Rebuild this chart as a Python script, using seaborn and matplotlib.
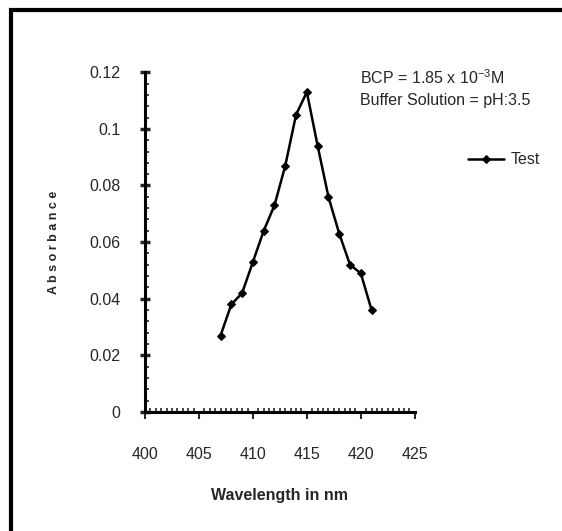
import matplotlib
matplotlib.use("Agg")
import matplotlib.pyplot as plt
import seaborn as sns
import pandas as pd
from matplotlib.ticker import MultipleLocator
from matplotlib.patches import Rectangle

# data
wavelength = [407, 408, 409, 410, 411, 412, 413, 414, 415, 416, 417, 418, 419, 420, 421]
absorbance = [0.027, 0.038, 0.042, 0.053, 0.064, 0.073, 0.087, 0.105, 0.113,
              0.094, 0.076, 0.063, 0.052, 0.049, 0.036]
series_name = "Test"
x_ticks = [400, 405, 410, 415, 420, 425]
y_ticks = [0, 0.02, 0.04, 0.06, 0.08, 0.1, 0.12]
y_tick_labels = ["0", "0.02", "0.04", "0.06", "0.08", "0.1", "0.12"]

df = pd.DataFrame({"Wavelength": wavelength, "Absorbance": absorbance, "Series": series_name})

sns.set_style("ticks")
plt.rcParams["font.family"] = ["Liberation Sans Narrow", "Liberation Sans", "DejaVu Sans"]
plt.rcParams["mathtext.default"] = "regular"

fig = plt.figure(figsize=(5.62, 5.31), dpi=100)
ax = fig.add_axes([0.258, 0.224, 0.48, 0.640])

sns.lineplot(data=df, x="Wavelength", y="Absorbance", hue="Series",
             palette=["black"], marker="D", markersize=4.5, markeredgecolor="black",
             linewidth=1.8, ax=ax)

ax.set_xlim(400, 425)
ax.set_ylim(0, 0.12)
ax.set_xticks(x_ticks)
ax.set_yticks(y_ticks)
ax.set_yticklabels(y_tick_labels)
ax.xaxis.set_minor_locator(MultipleLocator(0.5))
ax.yaxis.set_minor_locator(MultipleLocator(0.004))

for side in ["top", "right"]:
    ax.spines[side].set_visible(False)
for side in ["left", "bottom"]:
    ax.spines[side].set_linewidth(2.2)
    ax.spines[side].set_color("black")

ax.tick_params(axis="x", which="major", direction="out", length=5, width=1.5,
               labelsize=11.5, pad=20)
ax.tick_params(axis="y", which="major", direction="inout", length=7, width=2.5,
               labelsize=11.5, pad=14)
ax.tick_params(which="minor", direction="in", length=3, width=1.2)

ax.set_xlabel("Wavelength in nm", fontsize=11.5, fontweight="bold", labelpad=19)
ax.set_ylabel("A b s o r b a n c e", fontsize=9, fontweight="bold", labelpad=21)

ax.legend(loc="center left", bbox_to_anchor=(0.832, 0.699), bbox_transform=fig.transFigure,
          frameon=False, fontsize=11.5, handlelength=2.3, handletextpad=0.4,
          borderpad=0, borderaxespad=0)

fig.text(0.640, 0.853, "BCP = 1.85 x 10$^{-3}$M", fontsize=11.5, va="center")
fig.text(0.640, 0.810, "Buffer Solution = pH:3.5", fontsize=11.5, va="center")

# outer frame of the original figure
fig.patches.append(Rectangle((0.0196, -0.5), 2.0, 1.481, transform=fig.transFigure,
                             fill=False, edgecolor="black", linewidth=3))

fig.savefig("out.png", dpi=100)
